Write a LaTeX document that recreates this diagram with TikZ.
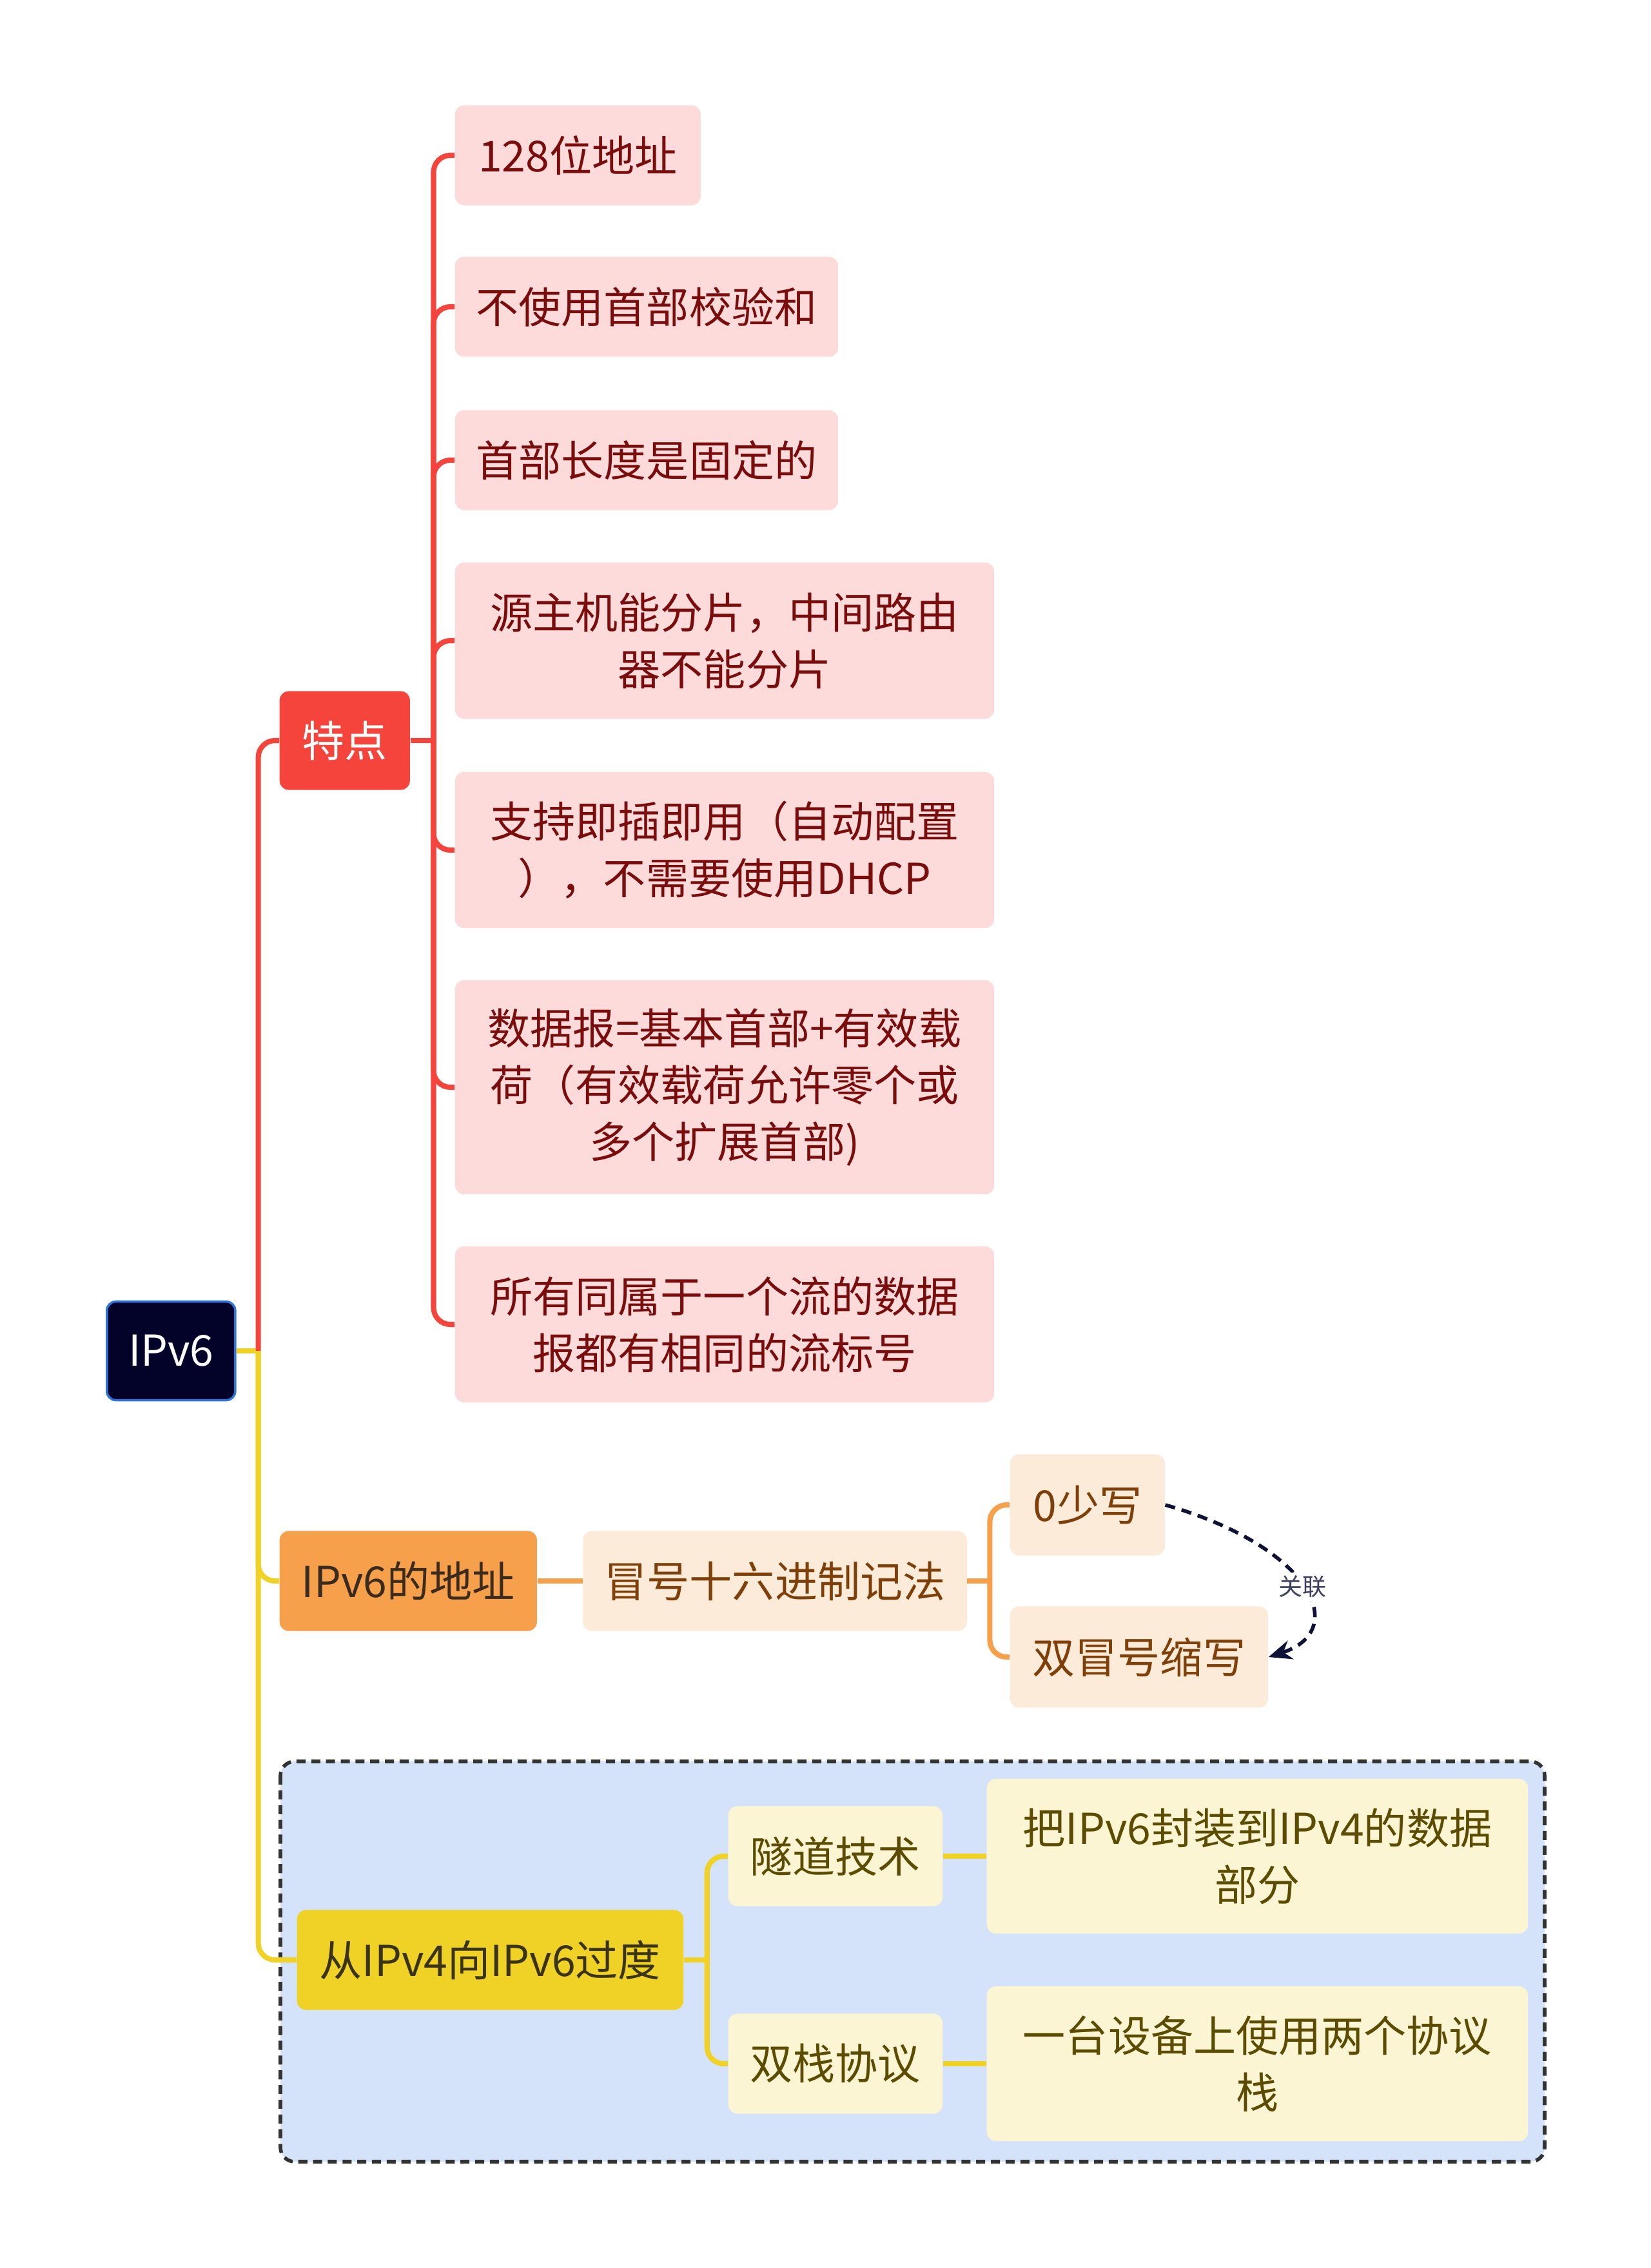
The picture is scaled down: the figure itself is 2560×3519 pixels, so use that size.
\documentclass[tikz,border=0pt]{standalone}
\usepackage{fontspec}
\setmainfont{Noto Sans CJK SC}
\usepackage{xcolor}
\usepackage{tikz}
\usetikzlibrary{arrows.meta, positioning, calc}
\definecolor{rootfill}{HTML}{03032A}
\definecolor{rootedge}{HTML}{2F74D9}
\definecolor{redmain}{HTML}{F5443C}
\definecolor{redleaf}{HTML}{FDDBDB}
\definecolor{redtext}{HTML}{7A0C0C}
\definecolor{orgmain}{HTML}{F6A04B}
\definecolor{orgleaf}{HTML}{FDEBDA}
\definecolor{orgtext}{HTML}{7E3F08}
\definecolor{orgdark}{HTML}{3B2A1E}
\definecolor{ylwmain}{HTML}{F0D226}
\definecolor{ylwleaf}{HTML}{FBF5D3}
\definecolor{ylwtext}{HTML}{5C4C02}
\definecolor{ylwdark}{HTML}{3A3414}
\definecolor{grpfill}{HTML}{D4E3FA}
\definecolor{relink}{HTML}{0D1236}
\tikzset{
  box/.style      = {rectangle, rounded corners=1.4mm, align=center, inner sep=0pt,
                     anchor=west, font=\fontsize{18.8}{25}\selectfont},
  rootbox/.style  = {box, fill=rootfill, draw=rootedge, line width=1pt, text=white},
  redbox/.style   = {box, fill=redmain, text=white},
  redleaf/.style  = {box, fill=redleaf, text=redtext},
  orgbox/.style   = {box, fill=orgmain, text=orgdark},
  orgleaf/.style  = {box, fill=orgleaf, text=orgtext},
  ylwbox/.style   = {box, fill=ylwmain, text=ylwdark},
  ylwleaf/.style  = {box, fill=ylwleaf, text=ylwtext},
  redline/.style  = {draw=redmain, line width=2.3pt, rounded corners=2.6mm},
  orgline/.style  = {draw=orgmain, line width=2.3pt, rounded corners=2.6mm},
  ylwline/.style  = {draw=ylwmain, line width=2.3pt, rounded corners=2.6mm},
  relarrow/.style = {-{Stealth[length=3.6mm, width=3mm]}, draw=relink, line width=1.6pt,
                     dash pattern=on 4.5pt off 3pt},
  rellabel/.style = {fill=white, inner sep=1.5pt, text=relink!80,
                     font=\fontsize{10.5}{12}\selectfont},
  grpbox/.style   = {draw=black!80, fill=grpfill, line width=1.6pt,
                     dash pattern=on 4pt off 2.5pt, rounded corners=2.2mm},
}

\begin{document}
\begin{tikzpicture}[x=0.01cm, y=-0.01cm]
  \useasboundingbox (0,0) rectangle (2560,3519);

  % transition group background
  \draw[grpbox] (435,2733) rectangle (2396,3354);

  \node[rootbox, minimum width=1.99cm, minimum height=1.53cm] (root) at (164,2096) {IPv6};

  % features
  \node[redbox, minimum width=2.02cm, minimum height=1.53cm] (feat) at (433,1149) {特点};
  \node[redleaf, minimum width=3.81cm, minimum height=1.55cm] (f1) at (705,241) {128位地址};
  \node[redleaf, minimum width=5.94cm, minimum height=1.55cm] (f2) at (705,476) {不使用首部校验和};
  \node[redleaf, minimum width=5.94cm, minimum height=1.55cm] (f3) at (705,714) {首部长度是固定的};
  \node[redleaf, minimum width=8.36cm, minimum height=2.42cm] (f4) at (705,994) {源主机能分片，中间路由\\器不能分片};
  \node[redleaf, minimum width=8.36cm, minimum height=2.42cm] (f5) at (705,1319) {支持即插即用（自动配置\\），不需要使用DHCP};
  \node[redleaf, minimum width=8.36cm, minimum height=3.32cm] (f6) at (705,1687) {数据报=基本首部+有效载\\荷（有效载荷允许零个或\\多个扩展首部)};
  \node[redleaf, minimum width=8.36cm, minimum height=2.42cm] (f7) at (705,2055) {所有同属于一个流的数据\\报都有相同的流标号};

  % addresses
  \node[orgbox, minimum width=3.99cm, minimum height=1.55cm] (addr) at (433,2453) {IPv6的地址};
  \node[orgleaf, minimum width=5.95cm, minimum height=1.55cm, right=0.7cm of addr] (colon) {冒号十六进制记法};
  \node[orgleaf, minimum width=2.40cm, minimum height=1.57cm] (zero) at (1566,2335) {0少写};
  \node[orgleaf, minimum width=4.00cm, minimum height=1.57cm] (dbl) at (1566,2571) {双冒号缩写};

  % transition
  \node[ylwbox, minimum width=5.99cm, minimum height=1.55cm] (trans) at (460,3041) {从IPv4向IPv6过度};
  \node[ylwleaf, minimum width=3.32cm, minimum height=1.55cm] (tunnel) at (1129,2880) {隧道技术};
  \node[ylwleaf, minimum width=3.32cm, minimum height=1.55cm] (dual) at (1129,3202) {双栈协议};
  \node[ylwleaf, minimum width=8.39cm, minimum height=2.40cm] (tundesc) at (1530,2880) {把IPv6封装到IPv4的数据\\部分};
  \node[ylwleaf, minimum width=8.39cm, minimum height=2.40cm] (dualdesc) at (1530,3202) {一台设备上使用两个协议\\栈};

  \coordinate (rootj) at ($(root.east)+(34,0)$);
  \coordinate (featj) at ($(feat.east)+(36,0)$);
  \coordinate (colonj) at ($(colon.east)+(35,0)$);
  \coordinate (transj) at ($(trans.east)+(36,0)$);

  \draw[ylwline] (root.east) -- (rootj);
  \draw[redline] (rootj) |- (feat.west);
  \draw[ylwline] (rootj) |- (addr.west);
  \draw[ylwline] (rootj) |- (trans.west);

  \draw[redline] (feat.east) -- (featj);
  \foreach \f in {f1,f2,f3,f4,f5,f6,f7}
    \draw[redline] (featj) |- (\f.west);

  \draw[orgline] (addr.east) -- (colon.west);
  \draw[orgline] (colon.east) -- (colonj);
  \draw[orgline] (colonj) |- (zero.west);
  \draw[orgline] (colonj) |- (dbl.west);

  \draw[ylwline] (trans.east) -- (transj);
  \draw[ylwline] (transj) |- (tunnel.west);
  \draw[ylwline] (transj) |- (dual.west);
  \draw[ylwline] (tunnel.east) -- (tundesc.west);
  \draw[ylwline] (dual.east) -- (dualdesc.west);

  \draw[relarrow] (zero.east) .. controls (2035,2400) and (2095,2530) .. (dbl.east)
    node[pos=0.5, rellabel] {关联};
\end{tikzpicture}
\end{document}
